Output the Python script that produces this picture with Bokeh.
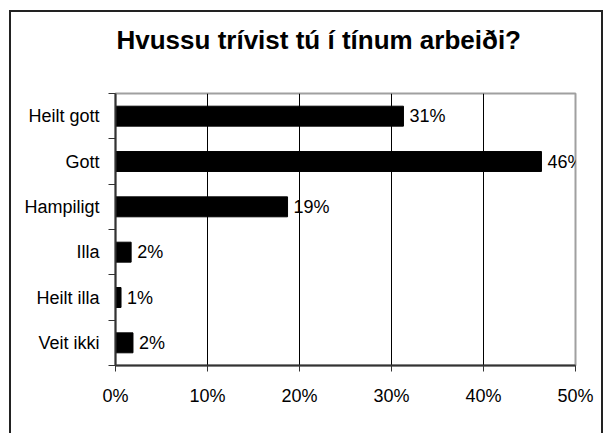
from bokeh.plotting import figure
from bokeh.models import ColumnDataSource, FixedTicker, Title
from bokeh.embed import file_html
from bokeh.resources import INLINE

# --- data ---
title_text = "Hvussu trívist tú í tínum arbeiði?"
categories = ["Heilt gott", "Gott", "Hampiligt", "Illa", "Heilt illa", "Veit ikki"]
values = [31.3, 46.3, 18.7, 1.7, 0.6, 1.9]
value_labels = ["31%", "46%", "19%", "2%", "1%", "2%"]
x_ticks = [0, 10, 20, 30, 40, 50]
x_tick_labels = ["0%", "10%", "20%", "30%", "40%", "50%"]

n = len(categories)
ypos = [n - i - 0.5 for i in range(n)]  # first category at top

src = ColumnDataSource(dict(cat=categories, val=values, y=ypos, lab=value_labels))

FONT = "Liberation Sans"

p = figure(width=594, height=423, output_backend="svg", toolbar_location=None,
           x_range=(0, 50), y_range=(0, n),
           min_border_left=104, min_border_right=30, min_border_top=81, min_border_bottom=70,
           styles={"margin-left": "9px", "margin-top": "10px",
                   "border-top": "2px solid #222", "border-left": "2px solid #222",
                   "border-right": "2px solid #222"})

# blank spacer next to the plot area, then the main title above it
p.add_layout(Title(text="\u00a0", text_font_size="1px", text_color="white", standoff=36), "above")
p.add_layout(Title(text=title_text, text_font=FONT, text_font_size="26px",
                   text_font_style="bold", align="left", offset=1, standoff=0,
                   text_color="black"), "above")

p.hbar(y="y", right="val", left=0, height=0.44, source=src,
       fill_color="black", line_color="black")

p.text(x="val", y="y", text="lab", source=src, x_offset=6,
       text_baseline="middle", text_align="left",
       text_font_size="18px", text_color="black", text_font={"value": FONT})

# x axis
p.xaxis.ticker = FixedTicker(ticks=x_ticks)
p.xaxis.major_label_overrides = {t: l for t, l in zip(x_ticks, x_tick_labels)}
p.xaxis.major_tick_out = 6
p.xaxis.major_tick_in = 0
p.xaxis.minor_tick_out = 0
p.xaxis.minor_tick_in = 0
p.xaxis.major_label_standoff = 14
p.xaxis.major_label_text_font = FONT
p.xaxis.major_label_text_font_size = "18px"
p.xaxis.major_label_text_color = "black"
p.xaxis.axis_line_color = "#333333"
p.xaxis.axis_line_width = 2
p.xaxis.major_tick_line_color = "#333333"

# y axis: labels at band centers, ticks at band boundaries
p.yaxis.ticker = FixedTicker(ticks=ypos, minor_ticks=list(range(n + 1)))
p.yaxis.major_label_overrides = {y: c for y, c in zip(ypos, categories)}
p.yaxis.major_tick_out = 0
p.yaxis.major_tick_in = 0
p.yaxis.minor_tick_out = 7
p.yaxis.minor_tick_in = 0
p.yaxis.minor_tick_line_color = "#333333"
p.yaxis.minor_tick_line_width = 1
p.yaxis.major_label_standoff = 9
p.yaxis.major_label_text_font = FONT
p.yaxis.major_label_text_font_size = "18px"
p.yaxis.major_label_text_color = "black"
p.yaxis.axis_line_color = "#333333"
p.yaxis.axis_line_width = 2

p.xgrid.ticker = FixedTicker(ticks=x_ticks)
p.xgrid.grid_line_color = "black"
p.xgrid.grid_line_width = 1
p.ygrid.grid_line_color = None

p.outline_line_color = "#a0a0a0"
p.outline_line_width = 2
p.background_fill_color = "white"
p.border_fill_color = "white"

open("out.html", "w").write(file_html(p, INLINE))
